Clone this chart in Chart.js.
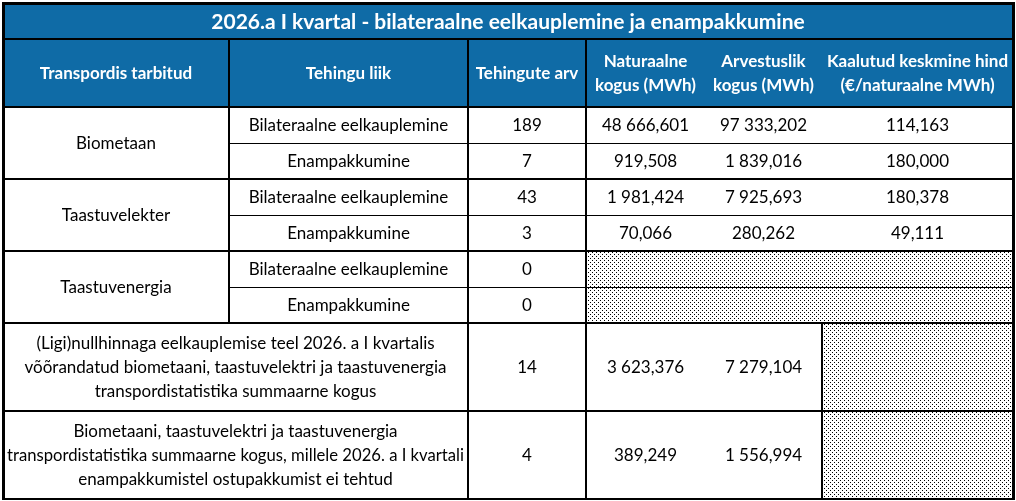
<!DOCTYPE html>
<html>
<head>
<meta charset="utf-8">
<script src="https://cdn.jsdelivr.net/npm/chart.js@4.4.1/dist/chart.umd.min.js"></script>
<style>
  html, body { margin: 0; padding: 0; background: #fff; }
  canvas { display: block; }
</style>
</head>
<body>
<canvas id="myChart" width="1016" height="501"></canvas>
<script>
'use strict';

// table data
const title = '2026.a I kvartal - bilateraalne eelkauplemine ja enampakkumine';
const headers = [
  ['Transpordis tarbitud'],
  ['Tehingu liik'],
  ['Tehingute arv'],
  ['Naturaalne', 'kogus (MWh)'],
  ['Arvestuslik', 'kogus (MWh)'],
  ['Kaalutud keskmine hind', '(€/naturaalne MWh)']
];
const groups = ['Biometaan', 'Taastuvelekter', 'Taastuvenergia'];
const dealTypes = ['Bilateraalne eelkauplemine', 'Enampakkumine'];
const summaryLabels = [
  ['(Ligi)nullhinnaga eelkauplemise teel 2026. a I kvartalis', 'võõrandatud biometaani, taastuvelektri ja taastuvenergia', 'transpordistatistika summaarne kogus'],
  ['Biometaani, taastuvelektri ja taastuvenergia', 'transpordistatistika summaarne kogus, millele 2026. a I kvartali', 'enampakkumistel ostupakkumist ei tehtud']
];
// 6 group rows then 2 summary rows; null = hatched cell
const dealCounts = [189, 7, 43, 3, 0, 0, 14, 4];
const naturalMWh = [48666.601, 919.508, 1981.424, 70.066, null, null, 3623.376, 389.249];
const accountedMWh = [97333.202, 1839.016, 7925.693, 280.262, null, null, 7279.104, 1556.994];
const avgPrice = [114.163, 180.000, 180.378, 49.111, null, null, null, null];

// layout (pixel-like units on the hidden linear scales)
const colX = [3, 229, 468, 586, 705, 822, 1013];
const rowY = [3, 39, 107, 143, 179, 215, 251, 287, 323, 411, 499];
const blue = '#0F6BA6';
const font = 'Lato, "Noto Sans", sans-serif';

function fmt(v) {
  let parts = v.toFixed(3).split('.');
  let intPart = parts[0].replace(/\B(?=(\d{3})+(?!\d))/g, ' ');
  return intPart + ',' + parts[1];
}

function makeHatch(ctx) {
  let c = document.createElement('canvas');
  c.width = 4;
  c.height = 4;
  let p = c.getContext('2d');
  p.fillStyle = '#fff';
  p.fillRect(0, 0, 4, 4);
  p.fillStyle = '#000';
  p.fillRect(0, 0, 1, 1);
  p.fillRect(2, 2, 1, 1);
  return ctx.createPattern(c, 'repeat');
}

const tablePlugin = {
  id: 'tablePlugin',
  afterDraw(chart) {
    const ctx = chart.ctx;
    const sx = chart.scales.x;
    const sy = chart.scales.y;
    const X = (v) => Math.round(sx.getPixelForValue(v));
    const Y = (v) => Math.round(sy.getPixelForValue(v));
    const hatch = makeHatch(ctx);

    function rect(x0, y0, x1, y1, fill) {
      ctx.fillStyle = fill;
      ctx.fillRect(X(x0), Y(y0), X(x1) - X(x0), Y(y1) - Y(y0));
    }
    function hLine(x0, x1, y, w) {
      ctx.fillStyle = '#000';
      ctx.fillRect(X(x0) - 1, Y(y) - Math.floor(w / 2), X(x1) - X(x0) + 2, w);
    }
    function vLine(x, y0, y1, w) {
      ctx.fillStyle = '#000';
      ctx.fillRect(X(x) - Math.floor(w / 2), Y(y0) - 1, w, Y(y1) - Y(y0) + 2);
    }
    function text(lines, x0, x1, y0, y1, style, color) {
      ctx.font = style;
      ctx.fillStyle = color;
      ctx.textAlign = 'center';
      ctx.textBaseline = 'middle';
      let cx = (X(x0) + X(x1)) / 2;
      let cy = (Y(y0) + Y(y1)) / 2;
      let maxW = X(x1) - X(x0) - 8;
      let lh = 24;
      let start = cy - (lines.length - 1) * lh / 2;
      lines.forEach((l, i) => ctx.fillText(l, cx, start + i * lh + 1, maxW));
    }

    ctx.save();
    // title + header background
    rect(colX[0], rowY[0], colX[6], rowY[2], blue);
    text([title], colX[0], colX[6], rowY[0], rowY[1], 'bold 21px ' + font, '#fff');
    for (let c = 0; c < headers.length; c++) {
      text(headers[c], colX[c], colX[c + 1], rowY[1], rowY[2], 'bold 17px ' + font, '#fff');
    }

    const bodyFont = '17px ' + font;
    const ink = '#000';
    // group rows
    for (let r = 0; r < 6; r++) {
      let y0 = rowY[2 + r];
      let y1 = rowY[3 + r];
      if (r % 2 === 0) {
        text([groups[r / 2]], colX[0], colX[1], y0, rowY[4 + r], bodyFont, ink);
      }
      text([dealTypes[r % 2]], colX[1], colX[2], y0, y1, bodyFont, ink);
      text([String(dealCounts[r])], colX[2], colX[3], y0, y1, bodyFont, ink);
      const vals = [naturalMWh[r], accountedMWh[r], avgPrice[r]];
      for (let k = 0; k < 3; k++) {
        if (vals[k] === null) {
          rect(colX[3 + k], y0, colX[4 + k], y1, hatch);
        } else {
          text([fmt(vals[k])], colX[3 + k], colX[4 + k], y0, y1, bodyFont, ink);
        }
      }
    }
    // summary rows
    for (let s = 0; s < 2; s++) {
      let r = 6 + s;
      let y0 = rowY[2 + r];
      let y1 = rowY[3 + r];
      text(summaryLabels[s], colX[0], colX[2], y0, y1, bodyFont, ink);
      text([String(dealCounts[r])], colX[2], colX[3], y0, y1, bodyFont, ink);
      const vals = [naturalMWh[r], accountedMWh[r], avgPrice[r]];
      for (let k = 0; k < 3; k++) {
        if (vals[k] === null) {
          rect(colX[3 + k], y0, colX[4 + k], y1, hatch);
        } else {
          text([fmt(vals[k])], colX[3 + k], colX[4 + k], y0, y1, bodyFont, ink);
        }
      }
    }

    // horizontal lines
    hLine(colX[0], colX[6], rowY[0], 3);
    hLine(colX[0], colX[6], rowY[1], 2);
    hLine(colX[0], colX[6], rowY[2], 2);
    for (let r = 0; r < 6; r++) {
      if (r % 2 === 0) {
        hLine(colX[1], colX[6], rowY[3 + r], 1);
      } else {
        hLine(colX[0], colX[6], rowY[3 + r], 2);
      }
    }
    hLine(colX[0], colX[6], rowY[9], 2);
    hLine(colX[0], colX[6], rowY[10], 2);

    // vertical lines
    vLine(colX[0], rowY[0], rowY[10], 3);
    vLine(colX[6], rowY[0], rowY[10], 3);
    vLine(colX[1], rowY[1], rowY[8], 2);
    vLine(colX[2], rowY[1], rowY[10], 2);
    vLine(colX[3], rowY[1], rowY[10], 2);
    vLine(colX[5], rowY[8], rowY[10], 2);
    ctx.restore();
  }
};

const ctx = document.getElementById('myChart');

new Chart(ctx, {
  type: 'scatter',
  data: {
    datasets: []
  },
  options: {
    responsive: false,
    animation: false,
    devicePixelRatio: 1,
    layout: { padding: 0 },
    plugins: {
      legend: { display: false },
      tooltip: { enabled: false }
    },
    scales: {
      x: { type: 'linear', min: 0, max: 1016, display: false },
      y: { type: 'linear', min: 0, max: 501, reverse: true, display: false }
    }
  },
  plugins: [tablePlugin]
});
</script>
</body>
</html>
